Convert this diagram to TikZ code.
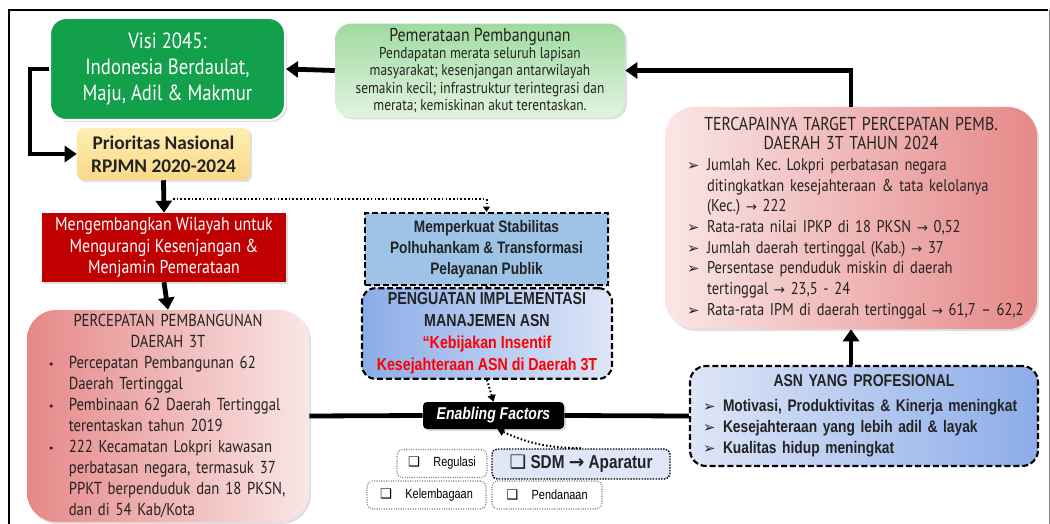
\documentclass[tikz,border=0pt]{standalone}
\usepackage{xcolor}
\usepackage{fontspec}
\setmainfont{PT Sans}
\newfontfamily\dosis{PT Sans}[FakeStretch=0.85]
\newfontfamily\calib{Carlito}
\newfontfamily\arialn{Liberation Sans}[FakeStretch=0.82]
\newfontfamily\symb{DejaVu Sans}
\usepackage{tikz}
\usetikzlibrary{arrows.meta,shadows}
\frenchspacing

\definecolor{visigreen}{RGB}{18,160,75}
\definecolor{darktext}{RGB}{35,35,35}
\definecolor{mengred}{RGB}{192,0,0}
\definecolor{memblue}{RGB}{157,195,230}
\definecolor{asnblue}{RGB}{140,172,232}
\definecolor{asnlight}{RGB}{222,230,247}
\definecolor{pinkdark}{RGB}{230,136,136}
\definecolor{pinklight}{RGB}{250,230,230}

\newcommand{\dotitem}[1]{\par\hangindent=20.6pt\hangafter=1\noindent\makebox[20.6pt][l]{\hspace{5pt}{\symb\fontsize{8}{8}\selectfont •}}#1}
\newcommand{\arrowitem}[1]{\par\hangindent=21pt\hangafter=1\noindent\makebox[21pt][l]{\hspace{6pt}{\symb\fontsize{11}{11}\selectfont ➢}}#1}
\newcommand{\chk}{{\symb ❑}}
\newcommand{\tto}{{\symb\fontsize{10}{10}\selectfont→}}

\begin{document}
\begin{tikzpicture}[x=0.75pt,y=0.75pt,yscale=-1,xscale=1,
    bigarrow/.style={line width=3.6pt,-{Triangle[length=9pt,width=12pt]}},
    bigline/.style={line width=3.6pt},
    dotline/.style={line width=1.5pt,dash pattern=on 1.2pt off 1.6pt},
    dashbox/.style={draw=black,line width=1.6pt,dash pattern=on 4.5pt off 2.2pt},
    smallbox/.style={draw=gray,fill=white,densely dotted,line width=0.8pt,rounded corners=4pt,
        minimum height=21pt,inner sep=0pt,font=\arialn\fontsize{10}{12}\selectfont},
    boxshadow/.style={drop shadow={opacity=0.25,shadow xshift=1.5pt,shadow yshift=-1.5pt}}]
\useasboundingbox (0,0) rectangle (1050,524);

% frame
\draw[line width=1.5pt] (9,524) -- (9,10) -- (1048,10);
\draw[gray,line width=0.6pt] (1049,10) -- (1049,524);

% boxes
\node (visi) [fill=visigreen,draw=white,line width=1.5pt,rounded corners=12pt,boxshadow,
    minimum width=176.25pt,minimum height=76.5pt,align=center,text=white,
    font=\dosis\fontsize{16.5}{19.5}\selectfont] at (167.5,69)
    {Visi 2045:\\Indonesia Berdaulat,\\Maju, Adil \& Makmur};
\node (prio) [top color={rgb,255:red,255;green,238;blue,178},bottom color={rgb,255:red,250;green,216;blue,135},
    rounded corners=5pt,boxshadow,minimum width=129.75pt,minimum height=39pt,align=center,
    text=darktext,font=\calib\bfseries\fontsize{14.5}{17}\selectfont] at (163.5,154)
    {Prioritas Nasional\\RPJMN 2020-2024};
\node (pemer) [top color={rgb,255:red,160;green,218;blue,160},bottom color={rgb,255:red,225;green,244;blue,225},
    rounded corners=12pt,boxshadow,minimum width=217.5pt,minimum height=69.75pt,align=center,
    text=darktext,font=\dosis\fontsize{11.8}{13}\selectfont] at (480,70.5)
    {{\fontsize{14}{15}\selectfont Pemerataan Pembangunan}\\Pendapatan merata seluruh lapisan\\masyarakat; kesenjangan antarwilayah\\semakin kecil; infrastruktur terintegrasi dan\\merata; kemiskinan akut terentaskan.};
\node (target) [left color=pinklight,right color=pinkdark,rounded corners=22pt,boxshadow,
    minimum width=279pt,minimum height=166.5pt,text width=258pt,align=left,inner sep=0pt,
    text=darktext,font=\dosis\fontsize{12.8}{15.5}\selectfont] at (851,218)
    {{\centering\fontsize{14}{14.5}\selectfont TERCAPAINYA TARGET PERCEPATAN PEMB.\\DAERAH 3T TAHUN 2024\par}
    \arrowitem{Jumlah Kec. Lokpri perbatasan negara\newline ditingkatkan kesejahteraan \& tata kelolanya\newline (Kec.) \tto{} 222}
    \arrowitem{Rata-rata nilai IPKP di 18 PKSN \tto{} 0,52}
    \arrowitem{Jumlah daerah tertinggal (Kab.) \tto{} 37}
    \arrowitem{Persentase penduduk miskin di daerah\newline tertinggal \tto{} 23,5 - 24}
    \arrowitem{\mbox{Rata-rata IPM di daerah tertinggal \tto{} 61,7 – 62,2}}\par};
\node (meng) [fill=mengred,boxshadow,minimum width=183pt,minimum height=51.75pt,align=center,
    text=white,font=\dosis\fontsize{14}{16}\selectfont] at (164,247.5)
    {Mengembangkan Wilayah untuk\\Mengurangi Kesenjangan \&\\Menjamin Pemerataan};
\node (perc) [left color=pinkdark,right color=pinklight,rounded corners=22pt,boxshadow,
    minimum width=211.5pt,minimum height=159pt,text width=190pt,align=left,inner sep=0pt,
    text=darktext,font=\dosis\fontsize{13}{15.75}\selectfont] at (168,416)
    {{\centering PERCEPATAN PEMBANGUNAN\\DAERAH 3T\par}
    \dotitem{Percepatan Pembangunan 62\newline Daerah Tertinggal}
    \dotitem{Pembinaan 62 Daerah Tertinggal\newline terentaskan tahun 2019}
    \dotitem{222 Kecamatan Lokpri kawasan\newline perbatasan negara, termasuk 37\newline PPKT berpenduduk dan 18 PKSN,\newline dan di 54 Kab/Kota}\par};
\node (memp) [fill=memblue,dashbox,boxshadow,minimum width=182.25pt,minimum height=54pt,align=center,
    text=darktext,font=\arialn\bfseries\fontsize{12.5}{15.75}\selectfont] at (486.5,249)
    {Memperkuat Stabilitas\\Polhuhankam \& Transformasi\\Pelayanan Publik};
\node (peng) [left color=asnblue,right color=asnlight,dashbox,rounded corners=10pt,
    minimum width=187.5pt,minimum height=62.25pt,align=center,
    text=darktext,font=\arialn\bfseries\fontsize{13}{16.5}\selectfont] at (487,333.5)
    {PENGUATAN IMPLEMENTASI\\MANAJEMEN ASN\\\textcolor{red}{“Kebijakan Insentif}\\\textcolor{red}{Kesejahteraan ASN di Daerah 3T}};
\node (enab) [fill=black,rounded corners=3pt,boxshadow,minimum width=105.75pt,minimum height=20.25pt,
    text=white,font=\arialn\bfseries\itshape\fontsize{12.8}{14}\selectfont] at (493.5,415.5)
    {Enabling Factors};
\node (asn) [left color=asnlight,right color=asnblue,dashbox,rounded corners=12pt,
    minimum width=261pt,minimum height=75pt,text width=253.5pt,align=left,inner sep=0pt,
    text=darktext,font=\arialn\bfseries\fontsize{12.6}{15.75}\selectfont] at (864,416)
    {{\centering\fontsize{12.8}{14}\selectfont ASN YANG PROFESIONAL\par}\vspace{3pt}
    \arrowitem{Motivasi, Produktivitas \& Kinerja meningkat}
    \arrowitem{Kesejahteraan yang lebih adil \& layak}
    \arrowitem{Kualitas hidup meningkat}\par};
\node (regul) [smallbox,minimum width=67.5pt] at (442,463.5) {\chk\quad Regulasi};
\node (sdm) [left color=asnlight,middle color=asnblue,right color=asnlight,draw=black,densely dotted,
    line width=1.1pt,rounded corners=4pt,minimum width=133.5pt,minimum height=22.5pt,inner sep=0pt,
    text=darktext,font=\arialn\bfseries\fontsize{14}{16}\selectfont] at (581,464)
    {\chk\ SDM {\symb\bfseries→} Aparatur};
\node (kelem) [smallbox,minimum width=89.25pt] at (426.5,495) {\chk\quad Kelembagaan};
\node (penda) [smallbox,minimum width=82.5pt] at (547,495) {\chk\quad Pendanaan};

% connectors
\draw[bigarrow] (visi.west) -- ++(-19,0) |- (prio.west);
\draw[bigarrow] (pemer.west) -- (visi.east);
\draw[bigarrow] (target.north) |- (pemer.east);
\draw[bigarrow] (prio.south) -- (meng.north);
\draw[bigarrow] (meng.south) -- (perc.north);
\draw[bigarrow] (asn.north -| target.south) -- (target.south);
\draw[bigline] (perc.east) -- (enab.west);
\draw[bigline] (enab.east) -- (asn.west);

\coordinate (dotstart) at (173,199);
\draw[dotline,-{Triangle[length=4pt,width=5pt]}] (dotstart) -| (memp.north);
\draw[dotline] (memp.south) -- (peng.north);
\draw[dotline,-{Triangle[length=5pt,width=6pt]}] (peng.south) -- (enab.north);
\draw[dotline,-{Triangle[length=5pt,width=6pt]}] (sdm.north) to[bend right=12] ([xshift=3pt]enab.south);
\end{tikzpicture}
\end{document}
